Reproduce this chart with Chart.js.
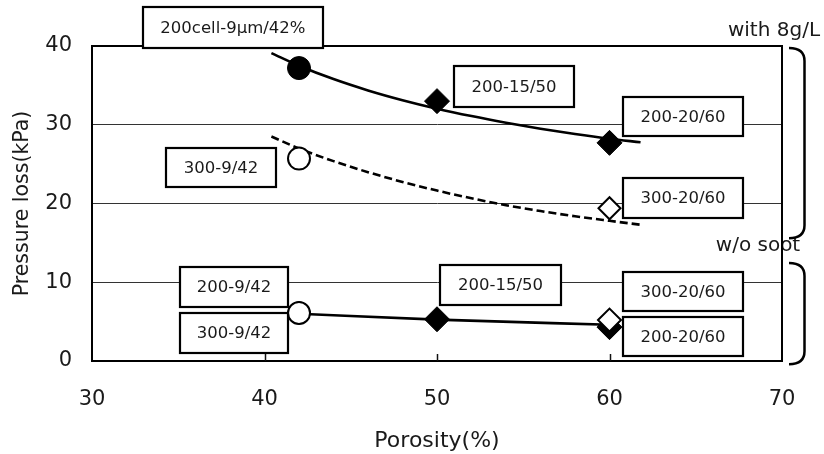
<!DOCTYPE html>
<html>
<head>
<meta charset="utf-8">
<title>Pressure loss vs porosity</title>
<script src="https://cdn.jsdelivr.net/npm/chart.js@4/dist/chart.umd.min.js"></script>
<style>
  html, body { margin: 0; padding: 0; background: #ffffff; }
  #wrap { width: 824px; height: 454px; position: relative; }
</style>
</head>
<body>
<div id="wrap"><canvas id="chart"></canvas></div>
<script>
// ---- data -----------------------------------------------------------
// porosity (%) / pressure loss (kPa)

// with 8 g/L soot loading
const soot200X = [42, 50, 60];
const soot200Y = [37.2, 33.0, 27.7];
const soot300X = [42, 60];
const soot300Y = [25.7, 19.4];

// without soot
const clean200X = [42, 50, 60];
const clean200Y = [6.1, 5.3, 4.3];
const clean300X = [42, 60];
const clean300Y = [6.1, 5.2];

// trend curves
const trend200X = [40.4, 42, 44, 46, 48, 50, 52, 54, 56, 58, 60, 61.8];
const trend200Y = [39.1, 37.5, 35.8, 34.36, 33.12, 32.04, 31.1, 30.26, 29.5, 28.82, 28.22, 27.77];
const trend300X = [40.4, 42, 44, 46, 48, 50, 52, 54, 56, 58, 60, 61.8];
const trend300Y = [28.5, 26.98, 25.38, 23.98, 22.74, 21.64, 20.66, 19.78, 19.04, 18.38, 17.8, 17.3];
const cleanTrendX = [42, 50, 60];
const cleanTrendY = [6.0, 5.25, 4.6];

// axis ticks
const xTickValues = [30, 40, 50, 60, 70];
const yTickValues = [0, 10, 20, 30, 40];

// call-out labels
const calloutTexts = [
  '200cell-9\u03bcm/42%',
  '300-9/42',
  '200-15/50',
  '200-20/60',
  '300-20/60',
  '200-9/42',
  '300-9/42',
  '200-15/50',
  '300-20/60',
  '200-20/60'
];
const groupTexts = ['with 8g/L', 'w/o soot'];

// ---- helpers --------------------------------------------------------
const pts = (xs, ys) => xs.map((x, i) => ({ x: x, y: ys[i] }));
const FONT = "'DejaVu Sans', Verdana, sans-serif";
const INK = '#1a1a1a';

// call-out placement: centre in data units, box size in px
const calloutPlacement = [
  { x: 38.17, y: 42.35, w: 180, h: 41 },
  { x: 37.48, y: 24.57, w: 110, h: 39 },
  { x: 54.46, y: 34.86, w: 120, h: 41 },
  { x: 64.26, y: 31.05, w: 120, h: 39 },
  { x: 64.26, y: 20.70, w: 120, h: 40 },
  { x: 38.23, y: 9.40,  w: 108, h: 40 },
  { x: 38.23, y: 3.56,  w: 108, h: 40 },
  { x: 53.68, y: 9.65,  w: 121, h: 40 },
  { x: 64.26, y: 8.83,  w: 120, h: 39 },
  { x: 64.26, y: 3.05,  w: 120, h: 39 }
];

const decorations = {
  id: 'decorations',
  beforeDatasetsDraw(chart) {
    const { ctx, chartArea: a, scales: { x } } = chart;
    ctx.save();
    // short inward tick marks on the porosity axis
    ctx.strokeStyle = '#111';
    ctx.lineWidth = 1.5;
    xTickValues.slice(1, -1).forEach(v => {
      const px = Math.round(x.getPixelForValue(v)) + 0.5;
      ctx.beginPath();
      ctx.moveTo(px, a.bottom);
      ctx.lineTo(px, a.bottom - 7);
      ctx.stroke();
    });
    // group captions on the right
    ctx.fillStyle = INK;
    ctx.font = '20px ' + FONT;
    ctx.textAlign = 'center';
    ctx.textBaseline = 'middle';
    ctx.fillText(groupTexts[0], 774, 31);
    ctx.fillText(groupTexts[1], 758, 246);
    ctx.restore();
  },
  afterDatasetsDraw(chart) {
    const { ctx, chartArea: a, scales: { x, y } } = chart;
    ctx.save();
    // top and right frame
    ctx.strokeStyle = '#000';
    ctx.lineWidth = 2;
    ctx.beginPath();
    ctx.moveTo(a.left, a.top);
    ctx.lineTo(a.right, a.top);
    ctx.lineTo(a.right, a.bottom);
    ctx.stroke();

    // braces grouping the two conditions
    const brace = (yTop, yBot) => {
      const x0 = 789, x1 = 804.5, r = 13;
      ctx.beginPath();
      ctx.moveTo(x0, yTop);
      ctx.quadraticCurveTo(x1, yTop, x1, yTop + r);
      ctx.lineTo(x1, yBot - r);
      ctx.quadraticCurveTo(x1, yBot, x0, yBot);
      ctx.stroke();
    };
    ctx.lineWidth = 2.5;
    brace(y.getPixelForValue(39.75), y.getPixelForValue(15.6));
    brace(y.getPixelForValue(12.45), y.getPixelForValue(-0.4));

    // call-out boxes
    ctx.font = '16.5px ' + FONT;
    ctx.textAlign = 'center';
    ctx.textBaseline = 'middle';
    calloutPlacement.forEach((p, i) => {
      const cx = x.getPixelForValue(p.x);
      const cy = y.getPixelForValue(p.y);
      const left = Math.round(cx - p.w / 2), top = Math.round(cy - p.h / 2);
      ctx.fillStyle = '#fff';
      ctx.fillRect(left, top, p.w, p.h);
      ctx.strokeStyle = '#000';
      ctx.lineWidth = 2.2;
      ctx.strokeRect(left, top, p.w, p.h);
      ctx.fillStyle = INK;
      ctx.fillText(calloutTexts[i], cx, cy + 1);
    });
    ctx.restore();
  }
};

// ---- chart ----------------------------------------------------------
const lineStyle = {
  showLine: true,
  borderColor: '#000',
  borderWidth: 2.6,
  pointRadius: 0,
  pointHoverRadius: 0,
  cubicInterpolationMode: 'monotone',
  order: 3
};

new Chart(document.getElementById('chart'), {
  type: 'scatter',
  data: {
    datasets: [
      // open markers (300 cell)
      {
        label: '300 cell, 8 g/L',
        data: pts(soot300X, soot300Y),
        pointStyle: ['circle', 'rectRot'],
        pointRadius: [11, 11],
        backgroundColor: '#fff',
        borderColor: '#000',
        borderWidth: 2,
        order: 0
      },
      {
        label: '300 cell, no soot',
        data: pts(clean300X, clean300Y),
        pointStyle: ['circle', 'rectRot'],
        pointRadius: [11, 11.5],
        backgroundColor: '#fff',
        borderColor: '#000',
        borderWidth: 2,
        order: 0
      },
      // filled markers (200 cell)
      {
        label: '200 cell, 8 g/L',
        data: pts(soot200X, soot200Y),
        pointStyle: ['circle', 'rectRot', 'rectRot'],
        pointRadius: [11.5, 12.5, 12.5],
        backgroundColor: '#000',
        borderColor: '#000',
        borderWidth: 1,
        order: 1
      },
      {
        label: '200 cell, no soot',
        data: pts(clean200X, clean200Y),
        pointStyle: ['circle', 'rectRot', 'rectRot'],
        pointRadius: [11, 12.5, 12.5],
        backgroundColor: '#000',
        borderColor: '#000',
        borderWidth: 1,
        order: 1
      },
      // trend curves
      Object.assign({ label: 'trend 200 cell', data: pts(trend200X, trend200Y) }, lineStyle),
      Object.assign({ label: 'trend 300 cell', data: pts(trend300X, trend300Y), borderDash: [8, 4] }, lineStyle),
      Object.assign({ label: 'trend no soot', data: pts(cleanTrendX, cleanTrendY) }, lineStyle)
    ]
  },
  options: {
    responsive: true,
    maintainAspectRatio: false,
    animation: false,
    events: [],
    layout: { padding: { top: 46, right: 42, left: 0, bottom: 0 } },
    plugins: {
      legend: { display: false },
      tooltip: { enabled: false }
    },
    scales: {
      x: {
        type: 'linear',
        min: 30, max: 70,
        afterFit(scale) { scale.height = 93; },
        afterBuildTicks(scale) { scale.ticks = xTickValues.map(v => ({ value: v })); },
        ticks: { color: INK, font: { family: FONT, size: 21 }, padding: 26 },
        grid: { display: false, drawTicks: false },
        border: { display: true, color: '#000', width: 2 },
        title: {
          display: true,
          text: 'Porosity(%)',
          color: INK,
          font: { family: FONT, size: 22 },
          padding: { top: 0, bottom: 0 }
        }
      },
      y: {
        type: 'linear',
        min: 0, max: 40,
        afterFit(scale) { scale.width = 92; },
        afterBuildTicks(scale) { scale.ticks = yTickValues.map(v => ({ value: v })); },
        ticks: { color: INK, font: { family: FONT, size: 21 }, padding: 20 },
        grid: {
          drawTicks: false,
          color: ctx => (ctx.tick && (ctx.tick.value === 0 || ctx.tick.value === 40)) ? 'rgba(0,0,0,0)' : '#333',
          lineWidth: 1
        },
        border: { display: true, color: '#000', width: 2 },
        title: {
          display: true,
          text: 'Pressure loss(kPa)',
          color: INK,
          font: { family: FONT, size: 20.5 },
          padding: { top: 10, bottom: 0 }
        }
      }
    }
  },
  plugins: [decorations]
});
</script>
</body>
</html>
